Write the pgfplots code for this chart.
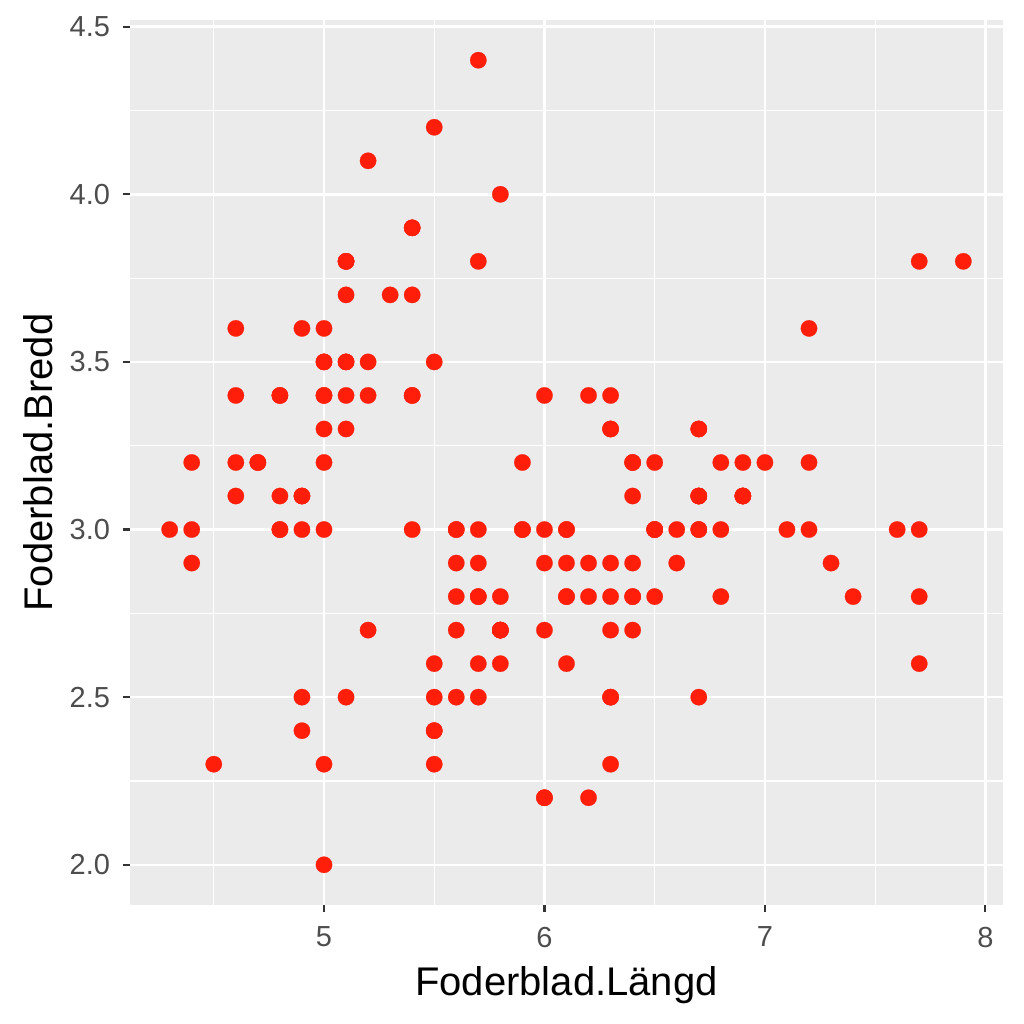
\documentclass[border=0pt]{standalone}
\usepackage{fontspec}
\setmainfont{Liberation Sans}
\usepackage{pgfplots}
\pgfplotsset{compat=1.18}
\definecolor{bg}{HTML}{EBEBEB}
\definecolor{pt}{HTML}{FF1E0A}
\definecolor{tk}{HTML}{4D4D4D}
\definecolor{tm}{HTML}{333333}
\begin{document}
\begin{tikzpicture}
\begin{axis}[
  at={(65bp,59.5bp)}, anchor=south west,
  scale only axis, width=436.5bp, height=442.5bp,
  xmin=4.12, xmax=8.08, ymin=1.88, ymax=4.52,
  axis background/.style={fill=bg},
  axis line style={draw=none},
  xtick={5,6,7,8}, ytick={2,2.5,3,3.5,4,4.5},
  minor xtick={4.5,5.5,6.5,7.5}, minor ytick={2.25,2.75,3.25,3.75,4.25},
  grid=both,
  major grid style={white, line width=1.2bp},
  minor grid style={white, line width=0.6bp},
  tick align=outside,
  major tick length=3.5bp, minor tick length=0pt,
  tick style={tm, line width=1.1bp},
  xtick pos=bottom, ytick pos=left,
  /pgf/number format/assume math mode=true,
  yticklabel style={/pgf/number format/fixed, /pgf/number format/fixed zerofill, /pgf/number format/precision=1, xshift=-3bp},
  ticklabel style={font=\fontsize{14.5bp}{17bp}\selectfont, text=tk},
  xticklabel style={yshift=-4bp},
  xlabel={Foderblad.Längd}, ylabel={Foderblad.Bredd},
  every axis x label/.style={at={([yshift=-40bp]axis description cs:0.5,0)}, anchor=center, font=\fontsize{20bp}{24bp}\selectfont, text=black},
  every axis y label/.style={at={([xshift=-46bp]axis description cs:0,0.5)}, anchor=center, rotate=90, font=\fontsize{20bp}{24bp}\selectfont, text=black},
  clip=false,
]
\addplot[pt, only marks, mark=*, mark size=4.1bp, mark options={fill=pt, draw=pt, line width=0.1bp}] table {
x y
5.1 3.5
4.9 3.0
4.7 3.2
4.6 3.1
5.0 3.6
5.4 3.9
4.6 3.4
5.0 3.4
4.4 2.9
4.9 3.1
5.4 3.7
4.8 3.4
4.8 3.0
4.3 3.0
5.8 4.0
5.7 4.4
5.4 3.9
5.1 3.5
5.7 3.8
5.1 3.8
5.4 3.4
5.1 3.7
4.6 3.6
5.1 3.3
4.8 3.4
5.0 3.0
5.0 3.4
5.2 3.5
5.2 3.4
4.7 3.2
4.8 3.1
5.4 3.4
5.2 4.1
5.5 4.2
4.9 3.1
5.0 3.2
5.5 3.5
4.9 3.6
4.4 3.0
5.1 3.4
5.0 3.5
4.5 2.3
4.4 3.2
5.0 3.5
5.1 3.8
4.8 3.0
5.1 3.8
4.6 3.2
5.3 3.7
5.0 3.3
7.0 3.2
6.4 3.2
6.9 3.1
5.5 2.3
6.5 2.8
5.7 2.8
6.3 3.3
4.9 2.4
6.6 2.9
5.2 2.7
5.0 2.0
5.9 3.0
6.0 2.2
6.1 2.9
5.6 2.9
6.7 3.1
5.6 3.0
5.8 2.7
6.2 2.2
5.6 2.5
5.9 3.2
6.1 2.8
6.3 2.5
6.1 2.8
6.4 2.9
6.6 3.0
6.8 2.8
6.7 3.0
6.0 2.9
5.7 2.6
5.5 2.4
5.5 2.4
5.8 2.7
6.0 2.7
5.4 3.0
6.0 3.4
6.7 3.1
6.3 2.3
5.6 3.0
5.5 2.5
5.5 2.6
6.1 3.0
5.8 2.6
5.0 2.3
5.6 2.7
5.7 3.0
5.7 2.9
6.2 2.9
5.1 2.5
5.7 2.8
6.3 3.3
5.8 2.7
7.1 3.0
6.3 2.9
6.5 3.0
7.6 3.0
4.9 2.5
7.3 2.9
6.7 2.5
7.2 3.6
6.5 3.2
6.4 2.7
6.8 3.0
5.7 2.5
5.8 2.8
6.4 3.2
6.5 3.0
7.7 3.8
7.7 2.6
6.0 2.2
6.9 3.2
5.6 2.8
7.7 2.8
6.3 2.7
6.7 3.3
7.2 3.2
6.2 2.8
6.1 3.0
6.4 2.8
7.2 3.0
7.4 2.8
7.9 3.8
6.4 2.8
6.3 2.8
6.1 2.6
7.7 3.0
6.3 3.4
6.4 3.1
6.0 3.0
6.9 3.1
6.7 3.1
6.9 3.1
5.8 2.7
6.8 3.2
6.7 3.3
6.7 3.0
6.3 2.5
6.5 3.0
6.2 3.4
5.9 3.0
};
\end{axis}
\pgfresetboundingbox
\path[use as bounding box] (0,0) rectangle (512bp,512bp);
\end{tikzpicture}
\end{document}
